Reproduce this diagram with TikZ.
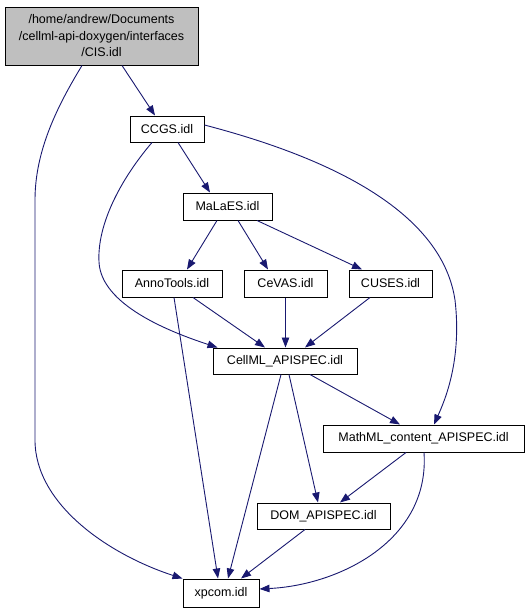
\documentclass[tikz,border=0pt]{standalone}
\usepackage{fontspec}
\setmainfont{Liberation Sans}
\usetikzlibrary{arrows.meta,calc}
\definecolor{edgeblue}{HTML}{191970}
\definecolor{rootgray}{HTML}{BFBFBF}
\tikzset{
  box/.style={draw=black, line width=1pt, fill=white, inner sep=0pt, font=\fontsize{12.5}{16.5}\selectfont, text=black},
  edge/.style={draw=edgeblue, line width=0.9pt, -{Triangle[length=10pt,width=7.5pt]}},
}
\begin{document}
\begin{tikzpicture}[x=1pt,y=-1pt]
\useasboundingbox (0,0) rectangle (529,613);
\node[box, fill=rootgray, minimum width=193pt, minimum height=58pt, align=center] (CIS) at (101.5,36) {/home/andrew/Documents\\/cellml-api-doxygen/interfaces\\/CIS.idl};
\node[box, minimum width=74pt, minimum height=26pt] (CCGS) at (167,129) {CCGS.idl};
\node[box, minimum width=89pt, minimum height=27pt] (MaLaES) at (227.5,206.5) {MaLaES.idl};
\node[box, minimum width=100pt, minimum height=27pt] (Anno) at (172,283.5) {AnnoTools.idl};
\node[box, minimum width=83pt, minimum height=27pt] (CeVAS) at (285.5,283.5) {CeVAS.idl};
\node[box, minimum width=83pt, minimum height=27pt] (CUSES) at (390.5,283.5) {CUSES.idl};
\node[box, minimum width=144pt, minimum height=26pt] (CellML) at (285,361) {CellML\_APISPEC.idl};
\node[box, minimum width=201pt, minimum height=27pt] (MathML) at (423.5,438.5) {MathML\_content\_APISPEC.idl};
\node[box, minimum width=133pt, minimum height=26pt] (DOM) at (323.5,516) {DOM\_APISPEC.idl};
\node[box, minimum width=76pt, minimum height=28pt] (xpcom) at (221,593) {xpcom.idl};

% CIS edges
\draw[edge] ($(CIS.south)+(-19.5,0)$) .. controls (58,105) and (35,150) .. (35,200) -- (35,440) .. controls (35,505) and (110,555) .. (xpcom.north west);
\draw[edge] ($(CIS.south)+(20.5,0)$) -- ($(CCGS.north)+(-12,0)$);
% CCGS edges
\draw[edge] ($(CCGS.south)+(11,0)$) -- ($(MaLaES.north)+(-17.5,0)$);
\draw[edge] ($(CCGS.south)+(-15,0)$) .. controls (120,180) and (97,225) .. (99,262) .. controls (101,305) and (170,332) .. ($(CellML.north west)+(5,0)$);
\draw[edge] ($(CCGS.east)+(0,-4)$) .. controls (300,150) and (440,200) .. (455,300) .. controls (462,360) and (445,400) .. ($(MathML.north)+(10.5,0)$);
% MaLaES edges
\draw[edge] ($(MaLaES.south)+(-10.5,0)$) -- ($(Anno.north)+(15,0)$);
\draw[edge] ($(MaLaES.south)+(10.5,0)$) -- ($(CeVAS.north)+(-17.5,0)$);
\draw[edge] ($(MaLaES.south)+(29.5,0)$) -- ($(CUSES.north)+(-28.5,0)$);
% second row to CellML
\draw[edge] ($(Anno.south)+(21,0)$) -- ($(CellML.north)+(-20,0)$);
\draw[edge] (CeVAS.south) -- ($(CellML.north)+(0.5,0)$);
\draw[edge] ($(CUSES.south)+(-20.5,0)$) -- ($(CellML.north)+(20,0)$);
\draw[edge] ($(Anno.south)+(2,0)$) -- ($(xpcom.north)+(-3,0)$);
% CellML edges
\draw[edge] ($(CellML.south)+(-4,0)$) -- ($(xpcom.north)+(7,0)$);
\draw[edge] ($(CellML.south)+(4,0)$) -- ($(DOM.north)+(-5.5,0)$);
\draw[edge] ($(CellML.south)+(25,0)$) -- ($(MathML.north)+(-23.5,0)$);
% MathML edges
\draw[edge] ($(MathML.south)+(-17.5,0)$) -- ($(DOM.north)+(16.5,0)$);
\draw[edge] ($(MathML.south)+(0.5,0)$) .. controls (430,540) and (340,585) .. ($(xpcom.east)+(0,-4)$);
% DOM edge
\draw[edge] ($(DOM.south)+(-18.5,0)$) -- ($(xpcom.north)+(20,0)$);
\end{tikzpicture}
\end{document}
